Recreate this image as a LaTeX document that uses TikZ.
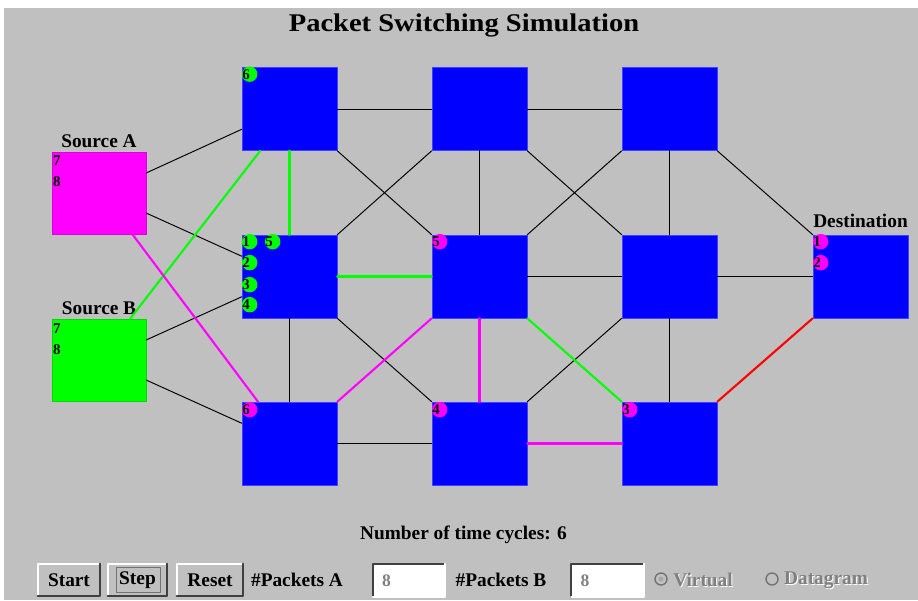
\documentclass[tikz,border=0pt]{standalone}
\usepackage{fontspec}
\setmainfont{Liberation Serif}
\usetikzlibrary{positioning}
\definecolor{panel}{RGB}{192,192,192}
\definecolor{pblue}{RGB}{0,0,255}
\definecolor{pmag}{RGB}{255,0,255}
\definecolor{pgreen}{RGB}{0,255,0}
\definecolor{pred}{RGB}{255,0,0}
\definecolor{dimtext}{RGB}{128,128,128}
\begin{document}
\begin{tikzpicture}[x=0.02cm,y=-0.02cm, line join=round, line cap=round,
	router/.style={draw=pblue!75!white, fill=pblue, minimum width=1.9cm, minimum height=1.66cm, inner sep=0pt},
	host/.style={router, minimum width=1.88cm, minimum height=1.64cm},
	link/.style={black, line width=0.55pt},
	route/.style={line width=1.2pt},
	pkt/.style={circle, inner sep=0pt, minimum size=0.31cm},
	num/.style={font=\fontsize{8.5}{9}\selectfont\bfseries, inner sep=0pt, anchor=west},
	lbl/.style={font=\fontsize{11}{13}\selectfont\bfseries, inner sep=0pt},
	btn/.style={fill=panel, minimum height=0.64cm, inner sep=0pt, font=\fontsize{11}{13}\selectfont\bfseries},
	field/.style={fill=white, minimum width=1.44cm, minimum height=0.66cm, inner sep=0pt}]
	\def\hi{white} \def\lo{black!75} % 3D edges
	
	\useasboundingbox (0,0) rectangle (918,600);
	\fill[white] (0,0) rectangle (918,600);
	\fill[panel] (4,8) rectangle (918,600);
	
	\node[font=\fontsize{14.5}{16}\selectfont\bfseries, xscale=1.12, inner sep=0pt] (title) at (464,25) {Packet Switching Simulation};
	
	% routers
	\foreach \r/\yy in {1/109,2/276.5,3/443.5}
	\foreach \c/\xx in {1/289.5,2/479.5,3/669.5}
	\node[router] (n\r\c) at (\xx,\yy) {};
	
	\node[host, fill=pmag, draw=pmag!85!black] (srcA) at (99,193) {};
	\node[host, fill=pgreen, draw=pgreen!85!black] (srcB) at (99,360) {};
	\node[router] (dest) at (860.5,276.5) {};
	\node[lbl, above=0.08cm of srcA] (labA) {Source A};
	\node[lbl, above=0.07cm of srcB] (labB) {Source B};
	\node[lbl, above=0.14cm of dest] (labD) {Destination};
	
	% idle links
	\draw[link] (srcA.23) -- (n11.203);
	\draw[link] (srcA.-23) -- (n21.157);
	\draw[link] (srcB.23) -- (n21.203);
	\draw[link] (srcB.-23) -- (n31.157);
	\draw[link] (n11.east) -- (n12.west);
	\draw[link] (n12.east) -- (n13.west);
	\draw[link] (n13.south east) -- (dest.north west);
	\draw[link] (n11.south east) -- (n22.north west);
	\draw[link] (n12.south west) -- (n21.north east);
	\draw[link] (n12.south) -- (n22.north);
	\draw[link] (n12.south east) -- (n23.north west);
	\draw[link] (n13.south west) -- (n22.north east);
	\draw[link] (n13.south) -- (n23.north);
	\draw[link] (n22.east) -- (n23.west);
	\draw[link] (n23.east) -- (dest.west);
	\draw[link] (n21.south) -- (n31.north);
	\draw[link] (n21.south east) -- (n32.north west);
	\draw[link] (n23.south west) -- (n32.north east);
	\draw[link] (n23.south) -- (n33.north);
	\draw[link] (n31.east) -- (n32.west);
	
	% routes in use
	\draw[route, pgreen] (srcB.53) -- (n11.235);
	\draw[route, pgreen] (n11.south) -- (n21.north);
	\draw[route, pgreen] (n21.east) -- (n22.west);
	\draw[route, pgreen] (n22.south east) -- (n33.north west);
	\draw[route, pred] (n33.north east) -- (dest.south west);
	\draw[route, pmag] (srcA.-51) -- (n31.127);
	\draw[route, pmag] (n31.north east) -- (n22.south west);
	\draw[route, pmag] (n22.south) -- (n32.north);
	\draw[route, pmag] (n32.east) -- (n33.west);
	
	% packets
	\foreach \host/\dx/\dy/\col/\k in {n11/8/7/pgreen/6, n21/8/7/pgreen/1, n21/31/7/pgreen/5, n21/8/28/pgreen/2,
		n21/8/50/pgreen/3, n21/8/70/pgreen/4, n22/8/7/pmag/5, dest/8/7/pmag/1, dest/8/28/pmag/2,
		n31/8/8/pmag/6, n32/8/8/pmag/4, n33/8/8/pmag/3}{
		\node[pkt, fill=\col] (pk-\host-\k) at ([shift={(\dx,\dy)}]\host.north west) {};
		\node[num] at ([xshift=0.01cm]pk-\host-\k.west) {\k};
	}
	\node[num] (qA7) at ([shift={(1,8.5)}]srcA.north west) {7};
	\node[num] (qA8) at ([shift={(1,30)}]srcA.north west) {8};
	\node[num] (qB7) at ([shift={(1,10)}]srcB.north west) {7};
	\node[num] (qB8) at ([shift={(1,31)}]srcB.north west) {8};
	
	\node[lbl] (cycles) at (463.5,535) {Number of time cycles: 6};
	
	% controls
	\node[btn, minimum width=1.24cm] (start) at (69,580) {Start};
	\node[btn, minimum width=1.18cm] (stepbtn) at (137.5,580) {Step};
	\node[btn, minimum width=1.32cm] (reset) at (210,580) {Reset};
	\foreach \b in {start,stepbtn,reset}{
		\draw[\hi, line width=1.2pt] (\b.south west) |- (\b.north east);
		\draw[\lo, line width=1.2pt] (\b.south west) -| (\b.north east);
	}
	\draw[black!55, line width=0.8pt] ([shift={(9,4)}]stepbtn.north west) rectangle ([shift={(-7,-4)}]stepbtn.south east);
	
	\node[lbl] (labPA) at (297,580) {\#Packets A};
	\node[lbl] (labPB) at (501,580) {\#Packets B};
	\node[field] (fieldA) at (409,580.5) {};
	\node[field] (fieldB) at (607.5,580.5) {};
	\foreach \f in {fieldA,fieldB}{
		\draw[\lo, line width=1.2pt] (\f.south west) |- (\f.north east);
		\draw[\hi, line width=1.2pt] (\f.south west) -| (\f.north east);
		\node[font=\fontsize{10}{12}\selectfont\bfseries, text=dimtext, inner sep=0pt, anchor=west] at ([xshift=0.18cm]\f.west) {8};
	}
	
	\node[circle, draw=black!55, line width=0.8pt, minimum size=0.24cm, inner sep=0pt] (radV) at (661,579) {};
	\fill[dimtext!70] (radV.center) circle (2.4);
	\node[circle, draw=black!55, line width=0.8pt, minimum size=0.24cm, inner sep=0pt] (radD) at (772,579) {};
	\node[lbl, text=white] at (704,581) {Virtual};
	\node[lbl, text=dimtext] (virt) at (703,580) {Virtual};
	\node[lbl, text=white] at (827,581) {Datagram};
	\node[lbl, text=dimtext] (dgram) at (826,580) {Datagram};
\end{tikzpicture}
\end{document}
